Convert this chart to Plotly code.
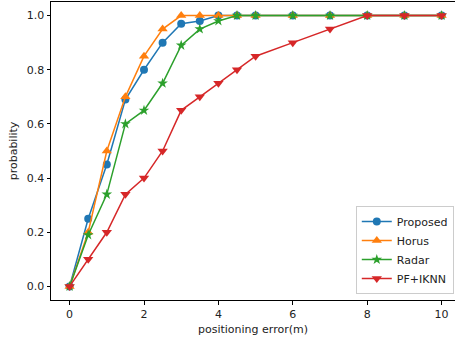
import plotly.graph_objects as go

x = [0, 0.5, 1, 1.5, 2, 2.5, 3, 3.5, 4, 4.5, 5, 6, 7, 8, 9, 10]
proposed = [0, 0.25, 0.45, 0.69, 0.80, 0.90, 0.97, 0.98, 1.0, 1.0, 1.0, 1.0, 1.0, 1.0, 1.0, 1.0]
horus = [0, 0.20, 0.50, 0.70, 0.85, 0.95, 1.0, 1.0, 1.0, 1.0, 1.0, 1.0, 1.0, 1.0, 1.0, 1.0]
radar = [0, 0.19, 0.34, 0.60, 0.65, 0.75, 0.89, 0.95, 0.98, 1.0, 1.0, 1.0, 1.0, 1.0, 1.0, 1.0]
pf_iknn = [0, 0.10, 0.20, 0.34, 0.40, 0.50, 0.65, 0.70, 0.75, 0.80, 0.85, 0.90, 0.95, 1.0, 1.0, 1.0]

series = [
    ("Proposed", proposed, "#1f77b4", "circle", 8),
    ("Horus", horus, "#ff7f0e", "triangle-up", 9),
    ("Radar", radar, "#2ca02c", "star", 8),
    ("PF+IKNN", pf_iknn, "#d62728", "triangle-down", 9),
]

fig = go.Figure()
for name, y, color, sym, size in series:
    fig.add_trace(go.Scatter(
        x=x, y=y, name=name, mode="lines+markers",
        line=dict(color=color, width=1.5),
        marker=dict(symbol=sym, size=size, color=color, line=dict(width=0)),
    ))

font = dict(family="DejaVu Sans", size=11, color="#222222")
fig.update_layout(
    width=455, height=340,
    margin=dict(l=51, r=0, t=2, b=40, autoexpand=False),
    plot_bgcolor="white", paper_bgcolor="white",
    font=font,
    showlegend=True,
    legend=dict(
        x=0.997, y=0.02, xanchor="right", yanchor="bottom",
        bgcolor="rgba(255,255,255,0.8)", bordercolor="#cccccc", borderwidth=1,
        font=dict(family="DejaVu Sans", size=11, color="#222222"),
        itemwidth=30, tracegroupgap=0,
    ),
)
fig.update_xaxes(
    range=[-0.5, 10.36], tickvals=[0, 2, 4, 6, 8, 10],
    showgrid=False, zeroline=False, automargin=False,
    showline=True, linecolor="black", linewidth=1, mirror=True,
    ticks="outside", ticklen=3.5, tickcolor="black", tickwidth=1,
    title=dict(text="positioning error(m)", font=font, standoff=5),
)
fig.update_yaxes(
    range=[-0.05, 1.05], tickvals=[0, 0.2, 0.4, 0.6, 0.8, 1.0], tickformat=".1f",
    showgrid=False, zeroline=False, automargin=False,
    showline=True, linecolor="black", linewidth=1,
    ticks="outside", ticklen=3.5, tickcolor="black", tickwidth=1,
    title=dict(text="probability", font=font, standoff=6),
)
fig.write_html("out.html", config={"displayModeBar": False},
               post_script="document.body.style.margin='0';")
